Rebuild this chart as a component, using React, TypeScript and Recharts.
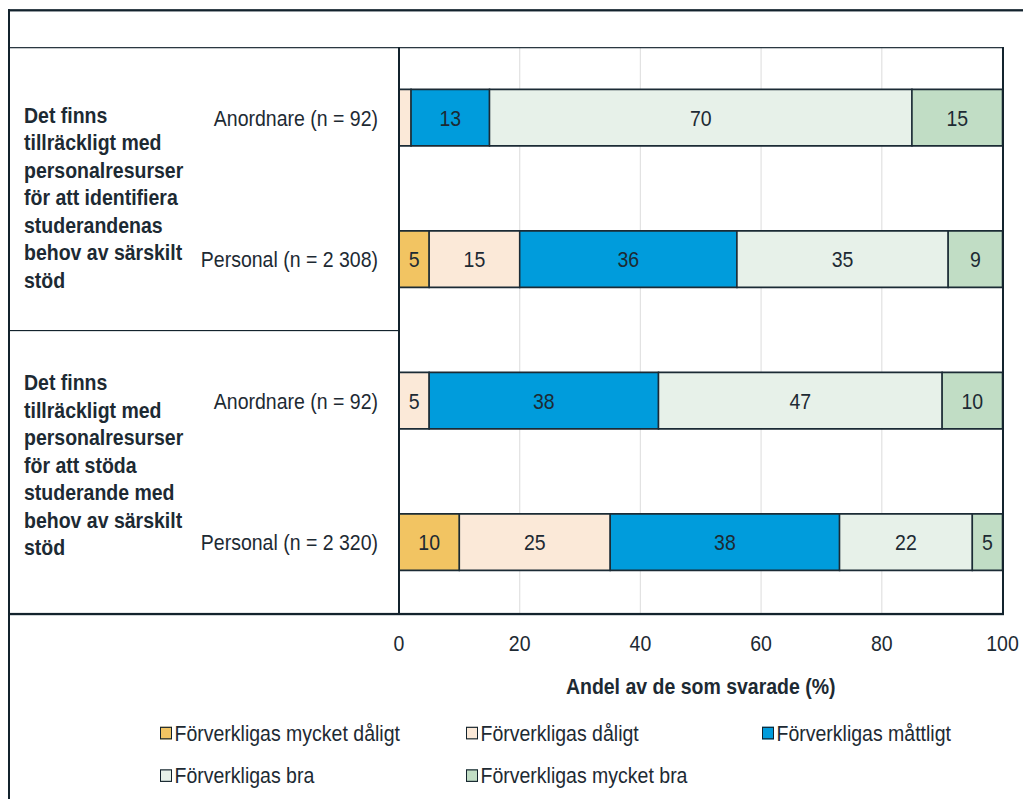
import React from "react";
import { BarChart, Bar, XAxis, YAxis, CartesianGrid, LabelList } from "recharts";

// ─── Data ────────────────────────────────────────────────────────────────────
const rowIds = ["q1-anordnare", "q1-personal", "q2-anordnare", "q2-personal"];
const categories = [
  "Anordnare (n = 92)",
  "Personal (n = 2 308)",
  "Anordnare (n = 92)",
  "Personal (n = 2 320)",
];
const groupLines = [
  [
    "Det finns",
    "tillräckligt med",
    "personalresurser",
    "för att identifiera",
    "studerandenas",
    "behov av särskilt",
    "stöd",
  ],
  [
    "Det finns",
    "tillräckligt med",
    "personalresurser",
    "för att stöda",
    "studerande med",
    "behov av särskilt",
    "stöd",
  ],
];

const veryBad = [0, 5, 0, 10];
const bad = [2, 15, 5, 25];
const moderate = [13, 36, 38, 38];
const good = [70, 35, 47, 22];
const veryGood = [15, 9, 10, 5];

const xTicks = [0, 20, 40, 60, 80, 100];

const series = [
  { key: "veryBad", name: "Förverkligas mycket dåligt", color: "#f2c462" },
  { key: "bad", name: "Förverkligas dåligt", color: "#fbe9d8" },
  { key: "moderate", name: "Förverkligas måttligt", color: "#009cdc" },
  { key: "good", name: "Förverkligas bra", color: "#e7f1e9" },
  { key: "veryGood", name: "Förverkligas mycket bra", color: "#c1ddc5" },
];

const rows = rowIds.map((id, i) => ({
  id,
  veryBad: veryBad[i],
  bad: bad[i],
  moderate: moderate[i],
  good: good[i],
  veryGood: veryGood[i],
}));

// ─── Layout ──────────────────────────────────────────────────────────────────
const FONT = '"Liberation Sans", Arial, Helvetica, sans-serif';
const TEXT = "#1d2a33";
const LINE = "#13232d";
const FS = 19.5;
const STRETCH = 1.15; // reference is drawn slightly taller than wide
const W = 1023;
const H = 688;
const PLOT_LEFT = 391;
const PLOT_RIGHT = 994.5;
const PLOT_TOP = 33.9;
const PLOT_BOTTOM = 526.1;
const LINE_GAP = 23.9;
const GROUP_FIRST_LINE = [-2.4, -16.2];

function CategoryTick(props: any) {
  const { x, y, payload } = props;
  const i = rowIds.indexOf(payload.value);
  const g = i % 2 === 0 ? i / 2 : -1;
  return (
    <g>
      <text
        x={x}
        y={y}
        textAnchor="end"
        dominantBaseline="central"
        fill={TEXT}
        fontSize={FS}
        fontFamily={FONT}
      >
        {categories[i]}
      </text>
      {g >= 0 &&
        groupLines[g].map((line, k) => (
          <text
            key={k}
            x={16}
            y={y + GROUP_FIRST_LINE[g] + k * LINE_GAP}
            dominantBaseline="central"
            fill={TEXT}
            fontSize={FS}
            fontWeight="bold"
            fontFamily={FONT}
          >
            {line}
          </text>
        ))}
    </g>
  );
}

const showLabel = (v: any) => (Number(v) >= 3 ? v : "");

function HLine({ x1, x2, y }: { x1: number; x2: number; y: number }) {
  return (
    <div
      style={{
        position: "absolute",
        left: x1,
        width: x2 - x1,
        top: y - 0.85,
        height: 1.7,
        background: LINE,
      }}
    />
  );
}

function VLine({ x, y1, y2, w = 2 }: { x: number; y1: number; y2: number; w?: number }) {
  return (
    <div
      style={{
        position: "absolute",
        left: x - w / 2,
        width: w,
        top: y1,
        height: y2 - y1,
        background: LINE,
      }}
    />
  );
}

export default function App() {
  return (
    <div style={{ width: W, height: Math.ceil(H * STRETCH), overflow: "hidden" }}>
      <div
        style={{
          position: "relative",
          width: W,
          height: H,
          transform: `scaleY(${STRETCH})`,
          transformOrigin: "0 0",
          fontFamily: FONT,
        }}
      >
        <BarChart
          width={W}
          height={620}
          data={rows}
          layout="vertical"
          barCategoryGap="30%"
          margin={{ top: PLOT_TOP, right: W - PLOT_RIGHT, bottom: 20, left: 0 }}
        >
          <CartesianGrid horizontal={false} vertical stroke="#e2e2e2" strokeWidth={1.2} />
          <XAxis
            type="number"
            domain={[0, 100]}
            ticks={xTicks}
            interval={0}
            axisLine={false}
            tickLine={false}
            tickMargin={13.3}
            height={73.9}
            tick={{ fill: TEXT, fontSize: FS, fontFamily: FONT }}
            label={{
              value: "Andel av de som svarade (%)",
              position: "insideBottom",
              offset: 3.4,
              fill: TEXT,
              fontSize: FS,
              fontWeight: "bold",
              fontFamily: FONT,
            }}
          />
          <YAxis
            type="category"
            dataKey="id"
            width={PLOT_LEFT}
            axisLine={false}
            tickLine={false}
            tickMargin={15}
            interval={0}
            tick={<CategoryTick />}
          />
          {series.map((s) => (
            <Bar
              key={s.key}
              dataKey={s.key}
              name={s.name}
              stackId="a"
              fill={s.color}
              stroke="#1b2b35"
              strokeWidth={1.5}
              isAnimationActive={false}
            >
              <LabelList
                dataKey={s.key}
                position="center"
                formatter={showLabel}
                fill={TEXT}
                stroke="none"
                fontSize={FS}
                fontFamily={FONT}
              />
            </Bar>
          ))}
        </BarChart>

        {/* frame */}
        <HLine x1={0} x2={W} y={1.7} />
        <VLine x={1.2} y1={1} y2={H} w={2.5} />
        <HLine x1={0} x2={PLOT_RIGHT + 1} y={PLOT_TOP + 0.6} />
        <HLine x1={0} x2={PLOT_LEFT} y={280.4} />
        <HLine x1={0} x2={PLOT_RIGHT + 1} y={PLOT_BOTTOM + 0.7} />
        <VLine x={PLOT_LEFT - 0.5} y1={PLOT_TOP} y2={PLOT_BOTTOM + 1} />
        <VLine x={PLOT_RIGHT + 0.2} y1={PLOT_TOP} y2={PLOT_BOTTOM + 1} />

        {/* legend */}
        <div
          style={{
            position: "absolute",
            left: 152,
            top: 611.7,
            display: "grid",
            gridTemplateColumns: "306px 296px 260px",
            gridAutoRows: "37.4px",
            alignItems: "center",
            fontSize: FS,
            color: TEXT,
          }}
        >
          {series.map((s) => (
            <div key={s.key} style={{ display: "flex", alignItems: "center", whiteSpace: "nowrap" }}>
              <span
                style={{
                  display: "inline-block",
                  width: 9.5,
                  height: 9.3,
                  background: s.color,
                  border: `1.4px solid ${LINE}`,
                  marginRight: 3,
                }}
              />
              <span>{s.name}</span>
            </div>
          ))}
        </div>
      </div>
    </div>
  );
}
